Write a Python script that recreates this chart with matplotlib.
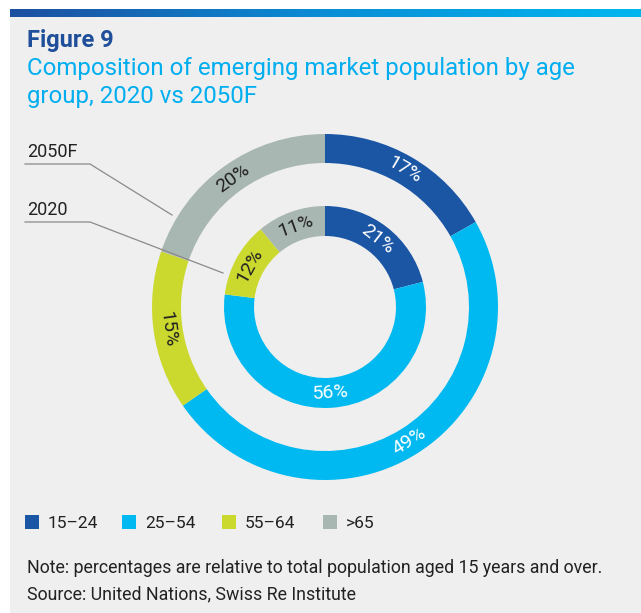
import numpy as np
import matplotlib
matplotlib.use("Agg")
import matplotlib.pyplot as plt
from matplotlib.patches import Rectangle
from matplotlib.colors import LinearSegmentedColormap

# ---- data ----
categories = ['15–24', '25–54', '55–64', '>65']
values_2020 = [21, 56, 12, 11]
values_2050 = [17, 49, 15, 20]
colors = ['#1b56a5', '#00b9f0', '#cbd92f', '#a9b7b3']
label_colors = ['white', 'white', '#222222', '#222222']
title = 'Figure 9'
subtitle = ['Composition of emerging market population by age',
            'group, 2020 vs 2050F']
note = 'Note: percentages are relative to total population aged 15 years and over.'
source = 'Source: United Nations, Swiss Re Institute'

W, H = 641, 613
FONT = ['Roboto', 'DejaVu Sans']
plt.rcParams['font.family'] = FONT

fig = plt.figure(figsize=(W / 100, H / 100), dpi=100, facecolor='white')
ax = fig.add_axes([0, 0, 1, 1])
ax.set_xlim(0, W)
ax.set_ylim(0, H)
ax.axis('off')

def Y(py):
    return H - py

# background panel
ax.add_patch(Rectangle((10, 0), W - 10, Y(17), facecolor='#efefef', edgecolor='none', zorder=0))
# gradient bar
cmap = LinearSegmentedColormap.from_list('bar', ['#1c4fa0', '#0a8ed6', '#00b7ef'])
grad = np.linspace(0, 1, 256).reshape(1, -1)
ax.imshow(grad, cmap=cmap, extent=(10, W, Y(17), Y(9)), aspect='auto', zorder=1)

# title
ax.text(27, Y(47), title, fontsize=17, fontweight='bold', color='#1f4e9a', va='baseline', ha='left')
ax.text(27, Y(75), subtitle[0], fontsize=17.3, color='#00aeef', va='baseline', ha='left')
ax.text(27, Y(103), subtitle[1], fontsize=17.3, color='#00aeef', va='baseline', ha='left')

# donuts
cx, cy = 325, Y(307)
rings = [(values_2050, 173, 29), (values_2020, 101, 30)]
for vals, r, w in rings:
    wedges, _ = ax.pie(vals, colors=colors, radius=r, center=(cx, cy), startangle=90,
                       counterclock=False, wedgeprops=dict(width=w, edgecolor='none', linewidth=0))
    for wdg, v, lc in zip(wedges, vals, label_colors):
        mid = (wdg.theta1 + wdg.theta2) / 2
        rm = r - w / 2
        x = cx + rm * np.cos(np.radians(mid))
        y = cy + rm * np.sin(np.radians(mid))
        rot = mid - 90 if np.sin(np.radians(mid)) >= 0 else mid + 90
        ax.text(x, y, f'{v}%', rotation=rot, rotation_mode='anchor', ha='center', va='center',
                fontsize=14, fontweight='normal', color=lc, zorder=5)

ax.set_xlim(0, W)
ax.set_ylim(0, H)
ax.set_aspect('auto')

# ring labels with leader lines
for txt, by, uy, end in [('2050F', 157, 164, (172, 215)), ('2020', 215, 222, (223, 273))]:
    ax.text(27, Y(by), txt, fontsize=13, color='#222222', va='baseline', ha='left')
    ax.plot([25, 90, end[0]], [Y(uy), Y(uy), Y(end[1])], color='#8a8a8a', lw=0.9, zorder=6)

# legend
leg_x = [25, 122, 222, 323]
for lx, c, cat in zip(leg_x, colors, categories):
    ax.add_patch(Rectangle((lx, Y(529)), 14, 14, facecolor=c, edgecolor='none'))
    ax.text(lx + 23, Y(528), cat, fontsize=12.5, color='#222222', va='baseline', ha='left')

# note / source
ax.text(27, Y(573), note, fontsize=12.8, color='#222222', va='baseline', ha='left')
ax.text(27, Y(599), source, fontsize=12.8, color='#222222', va='baseline', ha='left')

fig.savefig('out.png', dpi=100, facecolor='white')
